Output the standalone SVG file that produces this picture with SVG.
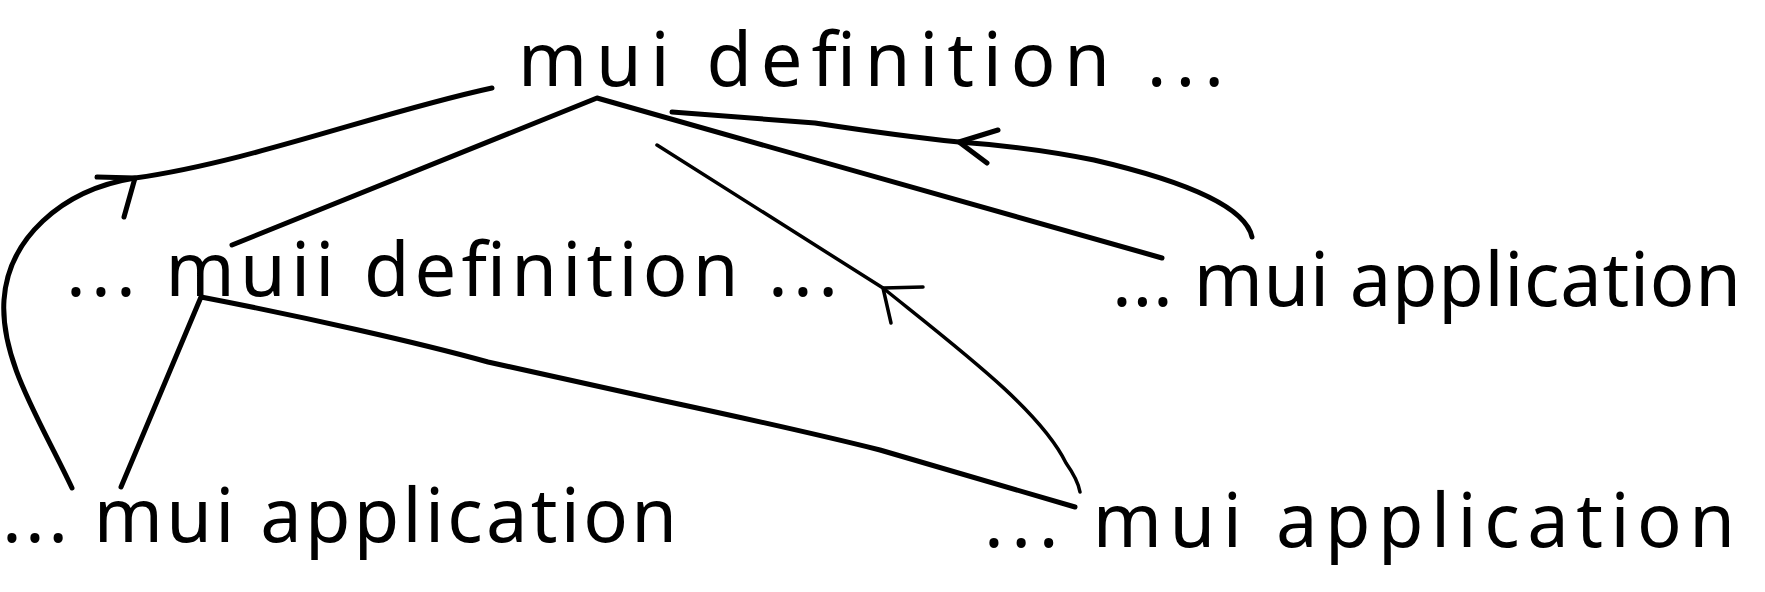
<svg xmlns="http://www.w3.org/2000/svg" width="1765" height="592" viewBox="0 0 1765 592">
<style>
.t{font-family:"Noto Sans","DejaVu Sans",sans-serif;font-size:74px;fill:#000}
.c{fill:none;stroke:#000;stroke-width:5;stroke-linecap:round;stroke-linejoin:round}
.thin{stroke-width:3.5}
</style>
<rect width="1765" height="592" fill="#fff"/>
<g id="connectors">
<path class="c" d="M72,488 C40,420 0,360 4,300 C8,240 60,190 135,178 C250,162 380,112 492,88"/>
<path class="c" d="M97,177 L135,178 L124,217"/>
<path class="c" d="M232,245 L597,98 L1162,258"/>
<path class="c" d="M1252,237 C1245,205 1180,180 1094,160 Q1030,147 959,142 Q900,136 815,123 L672,112"/>
<path class="c" d="M998,130 L959,142 L987,163"/>
<path class="c thin" d="M657,145 L883,288 C960,350 1040,410 1066,463 Q1078,480 1080,492"/>
<path class="c thin" d="M923,287 L883,288 L891,323"/>
<path class="c" d="M121,487 L201,297 C300,316 420,343 488,362 L660,400 Q800,430 880,450 L1075,507"/>
</g>
<g id="n-mui-definition"><text class="t" x="518" y="86" textLength="706" lengthAdjust="spacing">mui definition ...</text></g>
<g id="n-muii-definition"><text class="t" x="66" y="296" textLength="772" lengthAdjust="spacing">... muii definition ...</text></g>
<g id="n-mui-application-right"><text class="t" x="1112" y="306" textLength="629" lengthAdjust="spacing">... mui application</text></g>
<g id="n-mui-application-left"><text class="t" x="2" y="542" textLength="675" lengthAdjust="spacing">... mui application</text></g>
<g id="n-mui-application-bottom"><text class="t" x="984" y="547" textLength="751" lengthAdjust="spacing">... mui application</text></g>
</svg>
